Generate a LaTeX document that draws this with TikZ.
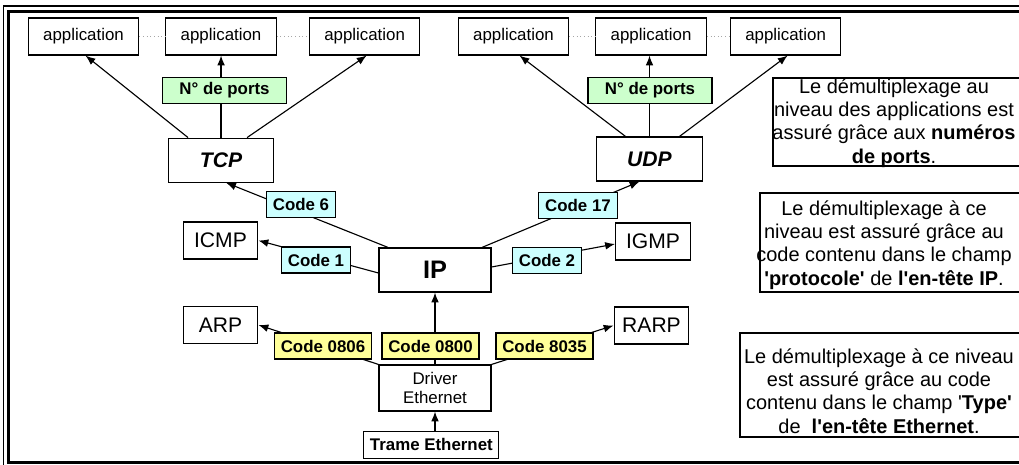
\documentclass[tikz,border=0pt]{standalone}
\usepackage{fontspec}
\setmainfont{Liberation Sans}
\usetikzlibrary{arrows.meta,positioning,calc}

\definecolor{portgreen}{HTML}{CCFFCC}
\definecolor{codecyan}{HTML}{CCFFFF}
\definecolor{codeyellow}{HTML}{FFFF99}
\newcommand{\sq}{\textquotesingle}

\begin{document}
\begin{tikzpicture}[
    x=0.025cm, y=-0.025cm,
    box/.style={rectangle, draw, line width=0.8pt, fill=white, inner sep=0pt},
    app/.style={box, minimum width=2.76cm, minimum height=0.925cm, font=\fontsize{12}{14}\selectfont},
    proto/.style={box, minimum width=1.87cm, minimum height=0.925cm, font=\fontsize{15}{18}\selectfont},
    transport/.style={box, minimum width=2.64cm, minimum height=1.1cm, font=\fontsize{15}{18}\selectfont\bfseries\itshape},
    tag/.style={box, inner xsep=4.5pt, minimum height=0.65cm, font=\fontsize{12}{14}\selectfont\bfseries},
    port/.style={tag, fill=portgreen, minimum width=3.1cm},
    ipcode/.style={tag, fill=codecyan},
    ethcode/.style={tag, fill=codeyellow},
    note/.style={align=center, font=\fontsize{14.2}{16.6}\selectfont},
    notebox/.style={draw, line width=1.3pt},
    arr/.style={-{Latex[length=7pt,width=5.5pt]}, line width=0.8pt},
    dots/.style={gray!70, dotted, line width=0.6pt}
]
\useasboundingbox (0,0) rectangle (1019,465);
\clip (0,0) rectangle (1019,465);

% Outer frame
\draw[line width=0.9pt] (3.5,6) rectangle (1040,480);
\draw[line width=1.8pt] (8.5,11.5) rectangle (1035,462.5);

% Applications
\node[app] (app1) at (83.5,36.5) {application};
\node[app, right=0.65cm of app1] (app2) {application};
\node[app, right=0.8cm of app2] (app3) {application};
\node[app] (app4) at (513.5,36.5) {application};
\node[app, right=0.65cm of app4] (app5) {application};
\node[app, right=0.575cm of app5] (app6) {application};

% Transport
\node[transport, below=2.05cm of app2] (tcp) {TCP};
\node[transport] (udp) at (649.5,159) {UDP};

% Network
\node[box, minimum width=2.8cm, minimum height=1.1cm, font=\fontsize{18}{20}\selectfont\bfseries] (ip) at (435,270) {IP};
\node[proto] (icmp) at (220.5,240.5) {ICMP};
\node[proto] (igmp) at (653,241.5) {IGMP};
\node[proto] (arp) at (220.5,325) {ARP};
\node[proto] (rarp) at (651.5,325.5) {RARP};

% Link
\node[box, minimum width=2.8cm, minimum height=1.15cm, align=center, font=\fontsize{12}{13.7}\selectfont] (driver) at (435,388) {Driver\\Ethernet};
\node[box, minimum width=3.375cm, minimum height=0.675cm, font=\fontsize{12}{14}\selectfont\bfseries, below=0.475cm of driver, xshift=-0.09cm] (trame) {Trame Ethernet};

% Connectors
\draw[dots] (app1) -- (app2);
\draw[dots] (app2) -- (app3);
\draw[dots] (app4) -- (app5);
\draw[dots] (app5) -- (app6);

\draw[arr] ($(tcp.north)+(-33,0)$) -- ($(app1.south)+(2,0)$);
\draw[arr] (tcp.north) -- (app2.south);
\draw[arr] ($(tcp.north)+(26,0)$) -- ($(app3.south)+(2,0)$);
\draw[arr] ($(udp.north)+(-24,0)$) -- ($(app4.south)+(6,0)$);
\draw[arr] (udp.north) -- (udp.north |- app5.south);
\draw[arr] ($(udp.north)+(30,0)$) -- ($(app6.south)+(2,0)$);

\draw[arr] ($(ip.north)+(-47,0)$) -- ($(tcp.south)+(5,0)$);
\draw[arr] ($(ip.north)+(47,0)$) -- ($(udp.south)+(-10,0)$);
\draw[arr] ($(ip.west)+(0,3)$) -- (icmp.east);
\draw[arr] ($(ip.east)+(0,-3)$) -- ($(igmp.west)+(0,2.5)$);

\draw[arr] (driver.north west) -- (arp.east);
\draw[arr] (driver.north east) -- (rarp.west);
\draw[arr] (driver.north) -- (ip.south);
\draw[arr] (trame.north -| driver.south) -- (driver.south);

% Codes
\node[port] (porttcp) at (224.5,90.5) {N° de ports};
\node[port] (portudp) at (650,90.5) {N° de ports};
\node[ipcode] (code6) at (301,204.5) {Code 6};
\node[ipcode] (code17) at (578,205.5) {Code 17};
\node[ipcode] (code1) at (316,260) {Code 1};
\node[ipcode] (code2) at (547,260.5) {Code 2};
\node[ethcode] (c0806) at (323,346) {Code 0806};
\node[ethcode] (c0800) at (430.5,346) {Code 0800};
\node[ethcode] (c8035) at (544.5,346) {Code 8035};

% Notes
\draw[notebox] (773,78) rectangle (1040,166);
\node[note] (noteapp) at (894,123) {Le démultiplexage au\\niveau des applications est\\assuré grâce aux \textbf{numéros}\\\textbf{de ports}.};
\draw[notebox] (760,193) rectangle (1040,292);
\node[note] (noteip) at (884,245) {Le démultiplexage à ce\\niveau est assuré grâce au\\code contenu dans le champ\\\textbf{\sq protocole\sq} de \textbf{l\sq en-tête IP}.};
\draw[notebox] (740,333) rectangle (1040,437);
\node[note] (noteeth) at (879,391) {Le démultiplexage à ce niveau\\est assuré grâce au code\\contenu dans le champ \sq\textbf{Type\sq}\\de~ \textbf{l\sq en-tête Ethernet}.};

\end{tikzpicture}
\end{document}
